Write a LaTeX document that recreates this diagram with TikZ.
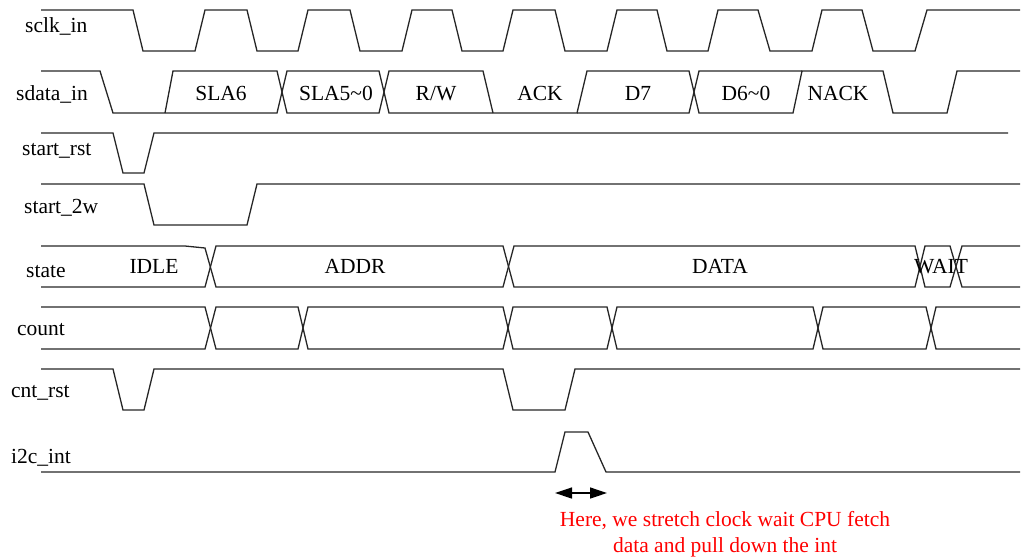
\documentclass[tikz,border=0pt]{standalone}
\usepackage{fontspec}
\setmainfont{Liberation Serif}
\usepackage{tikz}
\usetikzlibrary{arrows.meta}

\tikzset{
  wave/.style={line width=1.3pt, draw=black!85},
  sig/.style={anchor=base west, inner sep=0pt, font=\fontsize{21.5}{25}\selectfont},
  val/.style={anchor=base, inner sep=0pt, font=\fontsize{21.5}{25}\selectfont},
  note/.style={anchor=north, align=center, inner sep=0pt, text=red, font=\fontsize{21.5}{26}\selectfont}
}

\begin{document}
\begin{tikzpicture}[x=1pt,y=-1pt,>={Triangle[length=17pt,width=11pt]}]
\useasboundingbox (0,0) rectangle (1022,557);

% signal names
\node[sig] (sclk)  at (25,32)  {sclk\_in};
\node[sig] (sdata) at (16,100) {sdata\_in};
\node[sig] (srst)  at (22,155) {start\_rst};
\node[sig] (s2w)   at (24,213) {start\_2w};
\node[sig] (state) at (26,277) {state};
\node[sig] (count) at (17,335) {count};
\node[sig] (crst)  at (11,397) {cnt\_rst};
\node[sig] (int)   at (11,463) {i2c\_int};

% sclk_in
\draw[wave] (41,10)--(133,10)--(143,51)--(195,51)--(205,10)--(247,10)--(257,51)--(298,51)--(308,10)
  --(350,10)--(360,51)--(402,51)--(412,10)--(452,10)--(462,51)--(503,51)--(513,10)--(555,10)--(565,51)
  --(607,51)--(617,10)--(657,10)--(667,51)--(708,51)--(718,10)--(758,10)--(770,51)--(812,51)--(822,10)
  --(862,10)--(873,51)--(915,51)--(927,10)--(1020,10);

% sdata_in
\draw[wave] (41,71)--(100,71)--(113,113)--(277,113)--(287,71)--(379,71)--(389,113)--(577,113)--(587,71)
  --(689,71)--(699,113)--(793,113)--(802,71)--(883,71)--(893,113)--(947,113)--(957,71)--(1020,71);
\draw[wave] (165,113)--(173,71)--(277,71)--(287,113)--(379,113)--(389,71)--(483,71)--(493,113);
\draw[wave] (577,113)--(689,113)--(699,71)--(802,71);
\node[val] (sla6)  at (221,100) {SLA6};
\node[val] (sla5)  at (336,100) {SLA5\textasciitilde0};
\node[val] (rw)    at (436,100) {R/W};
\node[val] (ack)   at (540,100) {ACK};
\node[val] (d7)    at (638,100) {D7};
\node[val] (d6)    at (746,100) {D6\textasciitilde0};
\node[val] (nack)  at (838,100) {NACK};

% start_rst, start_2w
\draw[wave] (41,133)--(113,133)--(123,173)--(144,173)--(154,133)--(1008,133);
\draw[wave] (41,184)--(144,184)--(154,225)--(247,225)--(257,184)--(1020,184);

% state
\draw[wave] (41,246)--(185,246)--(205,248)--(216,287)--(503,287)--(514,246)--(915,246)--(925,287)
  --(950,287)--(962,246)--(1020,246);
\draw[wave] (41,287)--(205,287)--(216,246)--(503,246)--(514,287)--(915,287)--(925,246)
  --(950,246)--(962,287)--(1020,287);
\node[val] (idle) at (154,273) {IDLE};
\node[val] (addr) at (355,273) {ADDR};
\node[val] (data) at (720,273) {DATA};
\node[val] (wait) at (941,273) {WAIT};

% count
\draw[wave] (41,307)--(205,307)--(216,349)--(298,349)--(308,307)--(503,307)--(513,349)--(607,349)
  --(617,307)--(813,307)--(823,349)--(926,349)--(936,307)--(1020,307);
\draw[wave] (41,349)--(205,349)--(216,307)--(298,307)--(308,349)--(503,349)--(513,307)--(607,307)
  --(617,349)--(813,349)--(823,307)--(926,307)--(936,349)--(1020,349);

% cnt_rst, i2c_int
\draw[wave] (41,369)--(113,369)--(123,410)--(144,410)--(154,369)--(503,369)--(513,410)--(565,410)
  --(575,369)--(1020,369);
\draw[wave] (41,472)--(555,472)--(565,432)--(588,432)--(606,472)--(1020,472);

% stretch
\coordinate (sl) at (555,493);
\coordinate (sr) at (607,493);
\draw[<->, line width=1.3pt] (sl) -- (sr);
\node[note] (msg) at (725,511) {Here, we stretch clock wait CPU fetch\\data and pull down the int};
\end{tikzpicture}
\end{document}
